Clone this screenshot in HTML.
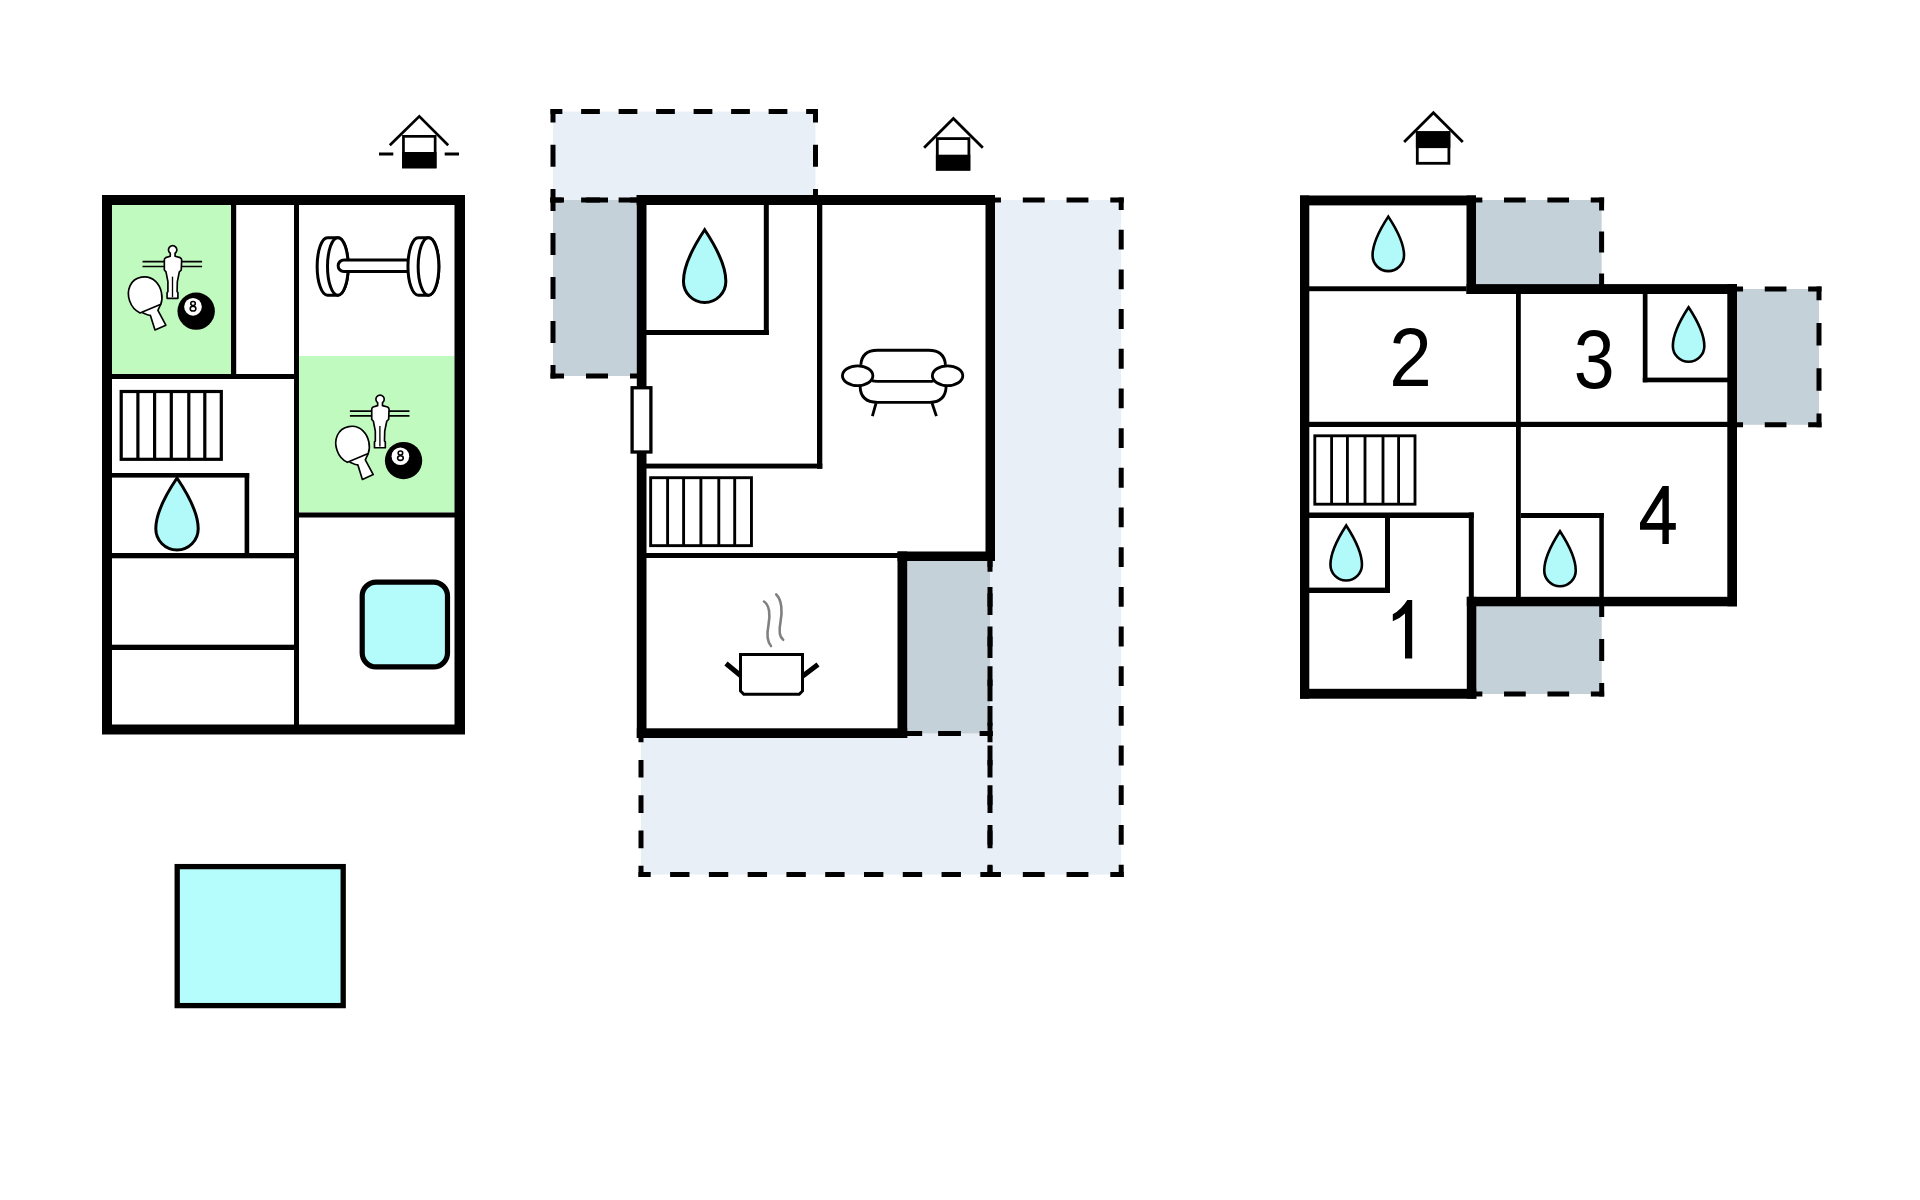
<!DOCTYPE html>
<html><head><meta charset="utf-8"><title>Floor plan</title>
<style>
html,body{margin:0;padding:0;background:#fff;width:1920px;height:1200px;overflow:hidden}
svg{display:block}
</style></head>
<body>
<svg width="1920" height="1200" viewBox="0 0 1920 1200">
<defs>
<g id="game">
 <g transform="scale(0.083333)">
  <line x1="270" y1="320" x2="985" y2="320" stroke="#000" stroke-width="20"/>
  <line x1="270" y1="378" x2="985" y2="378" stroke="#000" stroke-width="20"/>
  <path d="M603,219 A50,50 0 1 1 661,219 L661,255 L722,272 Q740,282 740,300 L735,420 L712,442 L688,560 L685,680 L695,690 L695,760 L565,760 L565,690 L575,680 L575,560 L552,442 L532,420 L532,300 Q532,280 548,272 L603,255 Z" fill="#fff" stroke="#000" stroke-width="20" stroke-linejoin="round"/>
  <line x1="630" y1="500" x2="630" y2="745" stroke="#000" stroke-width="16"/>
  <path d="M265,930 Q340,965 365,965 L420,1140 L550,1082 L455,905 Q470,870 490,830" fill="#fff" stroke="#000" stroke-width="20" stroke-linejoin="round"/>
  <path d="M240,935 C120,880 70,720 120,610 C170,500 330,460 430,560 C500,630 520,750 490,830 Z" fill="#fff" stroke="#000" stroke-width="20" stroke-linejoin="round"/>
  <circle cx="914" cy="914" r="224" fill="#000"/>
  <circle cx="876" cy="862" r="106" fill="#fff"/>
  <ellipse cx="876.5" cy="823" rx="27" ry="24" fill="none" stroke="#000" stroke-width="19"/>
  <ellipse cx="876.5" cy="884" rx="34" ry="28" fill="none" stroke="#000" stroke-width="19"/>
 </g>
</g>
</defs>
<rect x="112.00" y="205.00" width="119.00" height="169.00" fill="#c0fabe"/>
<rect x="299.00" y="356.00" width="155.50" height="156.50" fill="#c0fabe"/>
<path d="M102,195 H465 V734.5 H102 Z M112,205 V724.5 H454.5 V205 Z" fill="#000" fill-rule="evenodd"/>
<rect x="231.00" y="205.00" width="5.20" height="171.00" fill="#000"/>
<rect x="294.00" y="205.00" width="5.00" height="520.00" fill="#000"/>
<rect x="112.00" y="374.00" width="187.00" height="5.00" fill="#000"/>
<rect x="299.00" y="512.50" width="156.00" height="5.00" fill="#000"/>
<rect x="112.00" y="473.00" width="137.20" height="4.60" fill="#000"/>
<rect x="244.60" y="473.00" width="4.60" height="85.00" fill="#000"/>
<rect x="112.00" y="553.00" width="187.00" height="5.30" fill="#000"/>
<rect x="112.00" y="644.70" width="187.00" height="5.30" fill="#000"/>
<rect x="121.20" y="391.50" width="100.10" height="67.80" fill="#fff" stroke="#000" stroke-width="3.2"/>
<line x1="137.90" y1="391.50" x2="137.90" y2="459.30" stroke="#000" stroke-width="3.2"/>
<line x1="154.60" y1="391.50" x2="154.60" y2="459.30" stroke="#000" stroke-width="3.2"/>
<line x1="171.30" y1="391.50" x2="171.30" y2="459.30" stroke="#000" stroke-width="3.2"/>
<line x1="188.80" y1="391.50" x2="188.80" y2="459.30" stroke="#000" stroke-width="3.2"/>
<line x1="204.80" y1="391.50" x2="204.80" y2="459.30" stroke="#000" stroke-width="3.2"/>
<path d="M177.00,478.00 c9.96,14.73 21.20,34.54 21.20,50.80 a21.20,21.20 0 0 1 -42.40,0 c0,-16.26 11.24,-36.07 21.20,-50.80 z" fill="#b2fafa" stroke="#000" stroke-width="3" stroke-linejoin="miter" stroke-miterlimit="10"/>
<rect x="362.2" y="582.1" width="85.3" height="84.8" rx="14" fill="#b4fbfb" stroke="#000" stroke-width="5.2"/>
<g fill="#fff" stroke="#000" stroke-width="3">
 <path d="M327.5,237.66 H337.85 A10.35,28.8 0 0 1 337.85,295.26 H327.5 A10.35,28.8 0 0 1 327.5,237.66 Z"/>
 <ellipse cx="337.85" cy="266.46" rx="10.35" ry="28.8"/>
 <path d="M408,259.9 H344 A5.85,5.85 0 0 0 344,271.6 H408"/>
 <path d="M418.3,237.66 H428.5 A10.35,28.8 0 0 1 428.5,295.26 H418.3 A10.35,28.8 0 0 1 418.3,237.66 Z"/>
 <ellipse cx="428.5" cy="266.46" rx="10.35" ry="28.8"/>
</g>
<use href="#game" transform="translate(120,235)"/>
<use href="#game" transform="translate(327.4,384.4)"/>
<rect x="177.2" y="866.6" width="166" height="139" fill="#b4fdfc" stroke="#000" stroke-width="5.3"/>
<polyline points="389.8,145.3 419.3,116.4 448.2,145.3" fill="none" stroke="#000" stroke-width="2.7"/>
<rect x="403.45" y="136.35" width="31.70" height="30.60" fill="#fff" stroke="#000" stroke-width="2.7"/>
<rect x="402.10" y="152.00" width="34.40" height="16.30" fill="#000"/>
<rect x="379.00" y="152.50" width="14.30" height="3.00" fill="#000"/>
<rect x="444.70" y="152.50" width="14.30" height="3.00" fill="#000"/>
<rect x="553.00" y="111.50" width="262.50" height="88.50" fill="#e9eff7"/>
<rect x="553.00" y="200.00" width="84.00" height="176.00" fill="#c5d1d8"/>
<rect x="990.00" y="200.00" width="131.20" height="674.60" fill="#e9eff7"/>
<rect x="641.00" y="733.50" width="349.00" height="141.10" fill="#e9eff7"/>
<rect x="907.00" y="560.00" width="83.00" height="173.50" fill="#c5d1d8"/>
<line x1="553.00" y1="111.50" x2="815.50" y2="111.50" stroke="#000" stroke-width="5" stroke-linecap="square" stroke-dasharray="13.75 23.75" stroke-dashoffset="6.88"/>
<line x1="553.00" y1="200.00" x2="815.50" y2="200.00" stroke="#000" stroke-width="5" stroke-linecap="square" stroke-dasharray="13.75 23.75" stroke-dashoffset="6.88"/>
<line x1="553.00" y1="111.50" x2="553.00" y2="200.00" stroke="#000" stroke-width="5" stroke-linecap="square" stroke-dasharray="17.12 27.12" stroke-dashoffset="8.56"/>
<line x1="815.50" y1="111.50" x2="815.50" y2="200.00" stroke="#000" stroke-width="5" stroke-linecap="square" stroke-dasharray="17.12 27.12" stroke-dashoffset="8.56"/>
<line x1="553.00" y1="200.00" x2="641.00" y2="200.00" stroke="#000" stroke-width="5" stroke-linecap="square" stroke-dasharray="17.00 27.00" stroke-dashoffset="8.50"/>
<line x1="553.00" y1="376.00" x2="641.00" y2="376.00" stroke="#000" stroke-width="5" stroke-linecap="square" stroke-dasharray="17.00 27.00" stroke-dashoffset="8.50"/>
<line x1="553.00" y1="200.00" x2="553.00" y2="376.00" stroke="#000" stroke-width="5" stroke-linecap="square" stroke-dasharray="17.00 27.00" stroke-dashoffset="8.50"/>
<line x1="641.00" y1="200.00" x2="641.00" y2="376.00" stroke="#000" stroke-width="5" stroke-linecap="square" stroke-dasharray="17.00 27.00" stroke-dashoffset="8.50"/>
<line x1="990.00" y1="200.00" x2="1121.20" y2="200.00" stroke="#000" stroke-width="5" stroke-linecap="square" stroke-dasharray="16.87 26.87" stroke-dashoffset="8.43"/>
<line x1="990.00" y1="874.60" x2="1121.20" y2="874.60" stroke="#000" stroke-width="5" stroke-linecap="square" stroke-dasharray="16.87 26.87" stroke-dashoffset="8.43"/>
<line x1="990.00" y1="200.00" x2="990.00" y2="874.60" stroke="#000" stroke-width="5" stroke-linecap="square" stroke-dasharray="14.84 24.84" stroke-dashoffset="7.42"/>
<line x1="1121.20" y1="200.00" x2="1121.20" y2="874.60" stroke="#000" stroke-width="5" stroke-linecap="square" stroke-dasharray="14.84 24.84" stroke-dashoffset="7.42"/>
<line x1="641.00" y1="733.50" x2="990.00" y2="733.50" stroke="#000" stroke-width="5" stroke-linecap="square" stroke-dasharray="14.39 24.39" stroke-dashoffset="7.19"/>
<line x1="641.00" y1="874.60" x2="990.00" y2="874.60" stroke="#000" stroke-width="5" stroke-linecap="square" stroke-dasharray="14.39 24.39" stroke-dashoffset="7.19"/>
<line x1="641.00" y1="733.50" x2="641.00" y2="874.60" stroke="#000" stroke-width="5" stroke-linecap="square" stroke-dasharray="12.64 22.64" stroke-dashoffset="6.32"/>
<line x1="990.00" y1="733.50" x2="990.00" y2="874.60" stroke="#000" stroke-width="5" stroke-linecap="square" stroke-dasharray="12.64 22.64" stroke-dashoffset="6.32"/>
<line x1="907.00" y1="733.50" x2="990.00" y2="733.50" stroke="#000" stroke-width="5" stroke-linecap="square" stroke-dasharray="15.75 25.75" stroke-dashoffset="7.88"/>
<line x1="990.00" y1="561.00" x2="990.00" y2="733.50" stroke="#000" stroke-width="5" stroke-linecap="square" stroke-dasharray="16.56 26.56" stroke-dashoffset="8.28"/>
<rect x="646.00" y="205.00" width="339.50" height="346.50" fill="#fff"/>
<rect x="646.00" y="558.00" width="251.50" height="170.30" fill="#fff"/>
<rect x="636.60" y="195.00" width="358.40" height="10.00" fill="#000"/>
<rect x="636.80" y="195.00" width="9.70" height="543.00" fill="#000"/>
<rect x="985.50" y="195.00" width="9.50" height="366.00" fill="#000"/>
<rect x="897.50" y="551.50" width="97.50" height="9.50" fill="#000"/>
<rect x="897.50" y="551.50" width="9.70" height="186.50" fill="#000"/>
<rect x="636.80" y="728.30" width="270.40" height="9.70" fill="#000"/>
<rect x="763.80" y="205.00" width="5.00" height="130.00" fill="#000"/>
<rect x="646.00" y="330.00" width="122.80" height="5.00" fill="#000"/>
<rect x="817.00" y="205.00" width="5.30" height="263.80" fill="#000"/>
<rect x="646.00" y="463.60" width="176.30" height="4.90" fill="#000"/>
<rect x="646.00" y="553.00" width="252.00" height="5.00" fill="#000"/>
<rect x="632.1" y="387.75" width="18.8" height="64.25" fill="#fff" stroke="#000" stroke-width="3.3"/>
<rect x="650.65" y="477.70" width="100.80" height="67.95" fill="#fff" stroke="#000" stroke-width="2.9"/>
<line x1="667.60" y1="477.70" x2="667.60" y2="545.65" stroke="#000" stroke-width="2.9"/>
<line x1="683.60" y1="477.70" x2="683.60" y2="545.65" stroke="#000" stroke-width="2.9"/>
<line x1="700.90" y1="477.70" x2="700.90" y2="545.65" stroke="#000" stroke-width="2.9"/>
<line x1="718.80" y1="477.70" x2="718.80" y2="545.65" stroke="#000" stroke-width="2.9"/>
<line x1="734.70" y1="477.70" x2="734.70" y2="545.65" stroke="#000" stroke-width="2.9"/>
<path d="M704.66,229.75 c9.96,14.95 21.20,35.05 21.20,51.55 a21.20,21.20 0 0 1 -42.40,0 c0,-16.50 11.24,-36.60 21.20,-51.55 z" fill="#b2fafa" stroke="#000" stroke-width="3" stroke-linejoin="miter" stroke-miterlimit="10"/>
<g transform="translate(835,340) scale(0.0708)" fill="none" stroke="#000" stroke-width="40" stroke-linecap="butt">
 <path d="M365,350 Q380,145 600,145 L1320,145 Q1545,145 1560,350"/>
 <path d="M520,575 Q550,585 600,585 L1340,585 Q1370,585 1390,575"/>
 <path d="M355,655 Q360,880 600,880 L1340,880 Q1560,880 1570,655"/>
 <ellipse cx="320" cy="505" rx="215" ry="140"/>
 <ellipse cx="1590" cy="505" rx="215" ry="140"/>
 <line x1="580" y1="890" x2="528" y2="1075"/>
 <line x1="1370" y1="890" x2="1432" y2="1075"/>
</g>
<g transform="translate(715,585) scale(0.1)" stroke-linejoin="miter">
 <path d="M490,165 C545,200 555,300 535,400 C515,500 525,570 560,610" fill="none" stroke="#808080" stroke-width="26" stroke-linecap="round"/>
 <path d="M612,95 C670,150 675,270 655,370 C635,470 645,520 682,548" fill="none" stroke="#808080" stroke-width="26" stroke-linecap="round"/>
 <path d="M255,695 L875,695 L875,1060 L842,1093 L288,1093 L255,1060 Z" fill="#fff" stroke="#000" stroke-width="30"/>
 <line x1="110" y1="785" x2="255" y2="905" stroke="#000" stroke-width="50"/>
 <line x1="1030" y1="795" x2="875" y2="912" stroke="#000" stroke-width="50"/>
</g>
<polyline points="924.1,147.8 953.4,118.4 982.8,147.8" fill="none" stroke="#000" stroke-width="2.8"/>
<rect x="937.30" y="138.60" width="31.60" height="30.60" fill="#fff" stroke="#000" stroke-width="2.8"/>
<rect x="935.90" y="154.70" width="34.40" height="15.90" fill="#000"/>
<rect x="1476.00" y="200.00" width="125.60" height="84.00" fill="#c5d1d8"/>
<rect x="1737.00" y="289.00" width="82.00" height="135.80" fill="#c5d1d8"/>
<rect x="1476.00" y="606.00" width="125.70" height="88.00" fill="#c5d1d8"/>
<line x1="1471.50" y1="200.00" x2="1601.60" y2="200.00" stroke="#000" stroke-width="5" stroke-linecap="square" stroke-dasharray="16.68 26.68" stroke-dashoffset="8.34"/>
<line x1="1601.60" y1="200.00" x2="1601.60" y2="284.00" stroke="#000" stroke-width="5" stroke-linecap="square" stroke-dasharray="16.00 26.00" stroke-dashoffset="8.00"/>
<line x1="1732.20" y1="289.00" x2="1819.00" y2="289.00" stroke="#000" stroke-width="5" stroke-linecap="square" stroke-dasharray="16.70 26.70" stroke-dashoffset="8.35"/>
<line x1="1732.20" y1="424.80" x2="1819.00" y2="424.80" stroke="#000" stroke-width="5" stroke-linecap="square" stroke-dasharray="16.70 26.70" stroke-dashoffset="8.35"/>
<line x1="1819.00" y1="289.00" x2="1819.00" y2="424.80" stroke="#000" stroke-width="5" stroke-linecap="square" stroke-dasharray="17.63 27.63" stroke-dashoffset="8.82"/>
<line x1="1471.50" y1="694.00" x2="1601.70" y2="694.00" stroke="#000" stroke-width="5" stroke-linecap="square" stroke-dasharray="16.70 26.70" stroke-dashoffset="8.35"/>
<line x1="1601.70" y1="606.00" x2="1601.70" y2="694.00" stroke="#000" stroke-width="5" stroke-linecap="square" stroke-dasharray="17.00 27.00" stroke-dashoffset="8.50"/>
<rect x="1300.00" y="195.50" width="9.30" height="503.20" fill="#000"/>
<rect x="1300.00" y="195.50" width="176.00" height="9.90" fill="#000"/>
<rect x="1466.50" y="195.50" width="9.50" height="98.50" fill="#000"/>
<rect x="1466.50" y="284.10" width="270.50" height="9.90" fill="#000"/>
<rect x="1727.30" y="284.10" width="9.70" height="322.20" fill="#000"/>
<rect x="1466.80" y="596.80" width="270.20" height="9.50" fill="#000"/>
<rect x="1466.80" y="596.80" width="9.50" height="101.90" fill="#000"/>
<rect x="1300.00" y="688.80" width="176.30" height="9.90" fill="#000"/>
<rect x="1309.00" y="286.30" width="157.50" height="4.90" fill="#000"/>
<rect x="1516.00" y="291.00" width="4.80" height="311.00" fill="#000"/>
<rect x="1309.00" y="421.80" width="419.00" height="5.20" fill="#000"/>
<rect x="1642.80" y="294.00" width="4.70" height="88.30" fill="#000"/>
<rect x="1642.80" y="377.60" width="85.20" height="4.70" fill="#000"/>
<rect x="1309.00" y="512.50" width="164.80" height="5.50" fill="#000"/>
<rect x="1468.80" y="512.50" width="5.00" height="87.50" fill="#000"/>
<rect x="1385.00" y="518.00" width="5.00" height="75.00" fill="#000"/>
<rect x="1309.00" y="587.60" width="81.00" height="5.40" fill="#000"/>
<rect x="1520.80" y="513.00" width="83.00" height="5.00" fill="#000"/>
<rect x="1599.30" y="513.00" width="4.50" height="87.00" fill="#000"/>
<rect x="1314.80" y="435.80" width="100.20" height="68.40" fill="#fff" stroke="#000" stroke-width="2.85"/>
<line x1="1331.60" y1="435.80" x2="1331.60" y2="504.20" stroke="#000" stroke-width="2.85"/>
<line x1="1347.40" y1="435.80" x2="1347.40" y2="504.20" stroke="#000" stroke-width="2.85"/>
<line x1="1365.00" y1="435.80" x2="1365.00" y2="504.20" stroke="#000" stroke-width="2.85"/>
<line x1="1383.00" y1="435.80" x2="1383.00" y2="504.20" stroke="#000" stroke-width="2.85"/>
<line x1="1398.60" y1="435.80" x2="1398.60" y2="504.20" stroke="#000" stroke-width="2.85"/>
<path d="M1388.30,216.60 c7.40,11.24 15.75,26.35 15.75,38.75 a15.75,15.75 0 0 1 -31.50,0 c0,-12.40 8.35,-27.51 15.75,-38.75 z" fill="#b2fafa" stroke="#000" stroke-width="2.6" stroke-linejoin="miter" stroke-miterlimit="10"/>
<path d="M1688.60,307.30 c7.40,11.24 15.75,26.35 15.75,38.75 a15.75,15.75 0 0 1 -31.50,0 c0,-12.40 8.35,-27.51 15.75,-38.75 z" fill="#b2fafa" stroke="#000" stroke-width="2.6" stroke-linejoin="miter" stroke-miterlimit="10"/>
<path d="M1346.20,525.50 c7.40,11.38 15.75,26.69 15.75,39.25 a15.75,15.75 0 0 1 -31.50,0 c0,-12.56 8.35,-27.87 15.75,-39.25 z" fill="#b2fafa" stroke="#000" stroke-width="2.6" stroke-linejoin="miter" stroke-miterlimit="10"/>
<path d="M1560.00,531.20 c7.40,11.38 15.75,26.69 15.75,39.25 a15.75,15.75 0 0 1 -31.50,0 c0,-12.56 8.35,-27.87 15.75,-39.25 z" fill="#b2fafa" stroke="#000" stroke-width="2.6" stroke-linejoin="miter" stroke-miterlimit="10"/>
<text transform="translate(1389.17,386.40) scale(0.925,1)" x="0" y="0" font-family="Liberation Sans, sans-serif" font-size="82.71" fill="#000">2</text>
<text transform="translate(1573.66,387.57) scale(0.883,1)" x="0" y="0" font-family="Liberation Sans, sans-serif" font-size="83.10" fill="#000">3</text>
<path d="M1405,658.5 L1412.2,658.5 L1412.2,600 L1407.3,600 Q1401.5,609.5 1392.8,614.3 L1392.8,621.3 Q1400,618.5 1405,613.5 Z" fill="#000"/>
<path d="M1640,522.8 L1662.6,486 L1668.8,486 L1668.8,523 L1675.8,523 L1675.8,529.7 L1668.8,529.7 L1668.8,544 L1662.4,544 L1662.4,529.7 L1640,529.7 Z M1646.4,523 L1662.4,523 L1662.4,498 Z" fill="#000" fill-rule="evenodd"/>
<polyline points="1404.1,141.9 1433.4,112.8 1462.8,141.9" fill="none" stroke="#000" stroke-width="2.8"/>
<rect x="1417.30" y="132.65" width="31.60" height="30.65" fill="#fff" stroke="#000" stroke-width="2.8"/>
<rect x="1415.90" y="131.25" width="34.40" height="16.85" fill="#000"/>
</svg>
</body></html>
